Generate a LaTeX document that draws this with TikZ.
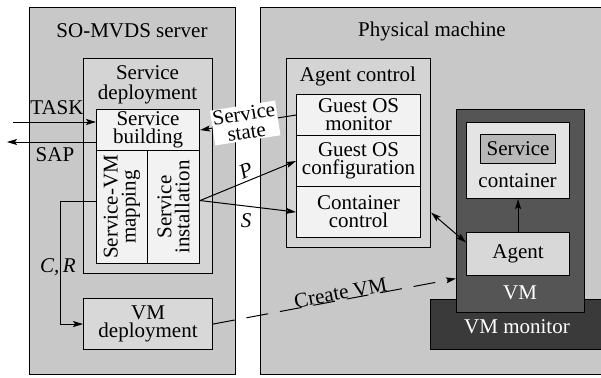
\documentclass[tikz,border=0pt]{standalone}
\usepackage{fontspec}
\setmainfont{Liberation Serif}
\usetikzlibrary{arrows.meta}

\definecolor{panelgray}{HTML}{C8C8C8}
\definecolor{groupgray}{HTML}{D4D4D4}
\definecolor{cellgray}{HTML}{F2F2F2}
\definecolor{vmgray}{HTML}{555555}
\definecolor{vmmgray}{HTML}{3A3A3A}
\definecolor{contgray}{HTML}{E4E4E4}
\definecolor{svcgray}{HTML}{B8B8B8}
\definecolor{agentgray}{HTML}{D8D8D8}

\tikzset{
  txt/.style={font=\fontsize{21}{18}\selectfont, align=center, inner sep=0pt},
  rbox/.style={draw=black, line width=1.1pt, anchor=north west, inner sep=0pt},
  panel/.style={rbox, fill=panelgray},
  group/.style={rbox, fill=groupgray},
  cell/.style={rbox, fill=cellgray, txt},
  arr/.style={line width=1pt, -{Stealth[length=10pt,width=6pt,inset=2pt]}},
  darr/.style={line width=1pt, {Stealth[length=10pt,width=6pt,inset=2pt]}-{Stealth[length=10pt,width=6pt,inset=2pt]}},
}

\begin{document}
\begin{tikzpicture}[x=1pt,y=-1pt]
\clip (0,0) rectangle (601,377);
\fill[white] (0,0) rectangle (601,377);

% ---- the two hosts ----
\node[panel, minimum width=206pt, minimum height=367pt] (server) at (29,7) {};
\node[txt] (servertitle) at (132,31) {SO-MVDS server};
\node[panel, minimum width=360pt, minimum height=367pt] (machine) at (260,7) {};
\node[txt] (machinetitle) at (432,31) {Physical machine};

% ---- server side ----
\node[group, minimum width=129pt, minimum height=215pt] (deploy) at (83,58) {};
\node[txt, font=\fontsize{21}{20}\selectfont] (deploytitle) at (147.5,85) {Service\\deployment};
\node[cell, minimum width=103pt, minimum height=41pt] (building) at (96,109) {Service\\building};
\node[rbox, fill=cellgray, minimum width=51pt, minimum height=113pt] (mapping) at (96,150) {};
\node[txt, rotate=90] (mappingtxt) at (mapping.center) {Service-VM\\mapping};
\node[rbox, fill=cellgray, minimum width=52pt, minimum height=113pt] (install) at (147,150) {};
\node[txt, rotate=90] (installtxt) at (install.center) {Service\\installation};
\node[rbox, fill=agentgray, txt, minimum width=129pt, minimum height=51pt] (vmdep) at (83,298) {VM\\deployment};

% ---- agent control ----
\node[group, minimum width=144pt, minimum height=189pt] (agentctl) at (286,58) {};
\node[txt] (agentctltitle) at (358,76) {Agent control};
\node[cell, minimum width=124pt, minimum height=41pt] (monitor) at (296,94) {Guest OS\\monitor};
\node[cell, minimum width=124pt, minimum height=51pt] (config) at (296,135) {Guest OS\\configuration};
\node[cell, minimum width=124pt, minimum height=51pt] (cctrl) at (296,186) {Container\\control};

% ---- virtual machine ----
\node[rbox, fill=vmmgray, minimum width=190pt, minimum height=50pt] (vmm) at (430,299) {};
\node[txt, text=white] (vmmtxt) at (517,327) {VM monitor};
\node[rbox, fill=vmgray, minimum width=128pt, minimum height=203pt] (vm) at (456,109) {};
\node[txt, text=white] (vmtxt) at (520,293) {VM};
\node[rbox, fill=contgray, minimum width=103pt, minimum height=76pt] (scont) at (466,122) {};
\node[txt] (sconttxt) at (517.5,181) {container};
\node[rbox, fill=svcgray, txt, minimum width=75pt, minimum height=29pt] (svc) at (480,134) {Service};
\node[rbox, fill=agentgray, txt, minimum width=103pt, minimum height=43pt] (agent) at (466,232) {Agent};

% ---- connectors ----
\coordinate (taskin) at (13,122);
\coordinate (sapout) at (7,142);
\draw[arr] (taskin) -- (building.west |- taskin);
\node[txt] (tasklbl) at (57,108) {TASK};
\draw[arr] (building.west |- sapout) -- (sapout);
\node[txt] (saplbl) at (55,155) {SAP};

\draw[arr] (monitor.west) -- (building.east)
  node[txt, pos=0.53, sloped, fill=white, inner sep=1.5pt] (statelbl) {Service\\state};

\coordinate (instout) at ([yshift=6.5pt]install.east);
\draw[arr] (instout) -- (config.west)
  node[txt, pos=0.52, sloped, above=3pt, font=\fontsize{21}{18}\selectfont\itshape] (plbl) {P};
\draw[arr] (instout) -- (cctrl.west);
\node[txt, font=\fontsize{21}{18}\selectfont\itshape] (slbl) at (246,221) {S};

\draw[arr] ([yshift=5.5pt]mapping.west) -- ++(-36,0) |- (vmdep.west);
\node[txt, font=\fontsize{21}{18}\selectfont\itshape] (crlbl) at (58,267) {C,\,R};

\draw[line width=1pt, dash pattern=on 22pt off 12pt, -{Stealth[length=10pt,width=6pt,inset=2pt]}]
  (vmdep.east) -- ([yshift=-67.5pt]vm.west)
  node[txt, pos=0.53, sloped, anchor=base, yshift=0.5pt] (createlbl) {Create VM};

\draw[darr] ([yshift=-59.5pt]agentctl.east) -- ([yshift=11.5pt]agent.west);
\draw[arr] (agent.north) -- (scont.south);
\end{tikzpicture}
\end{document}
